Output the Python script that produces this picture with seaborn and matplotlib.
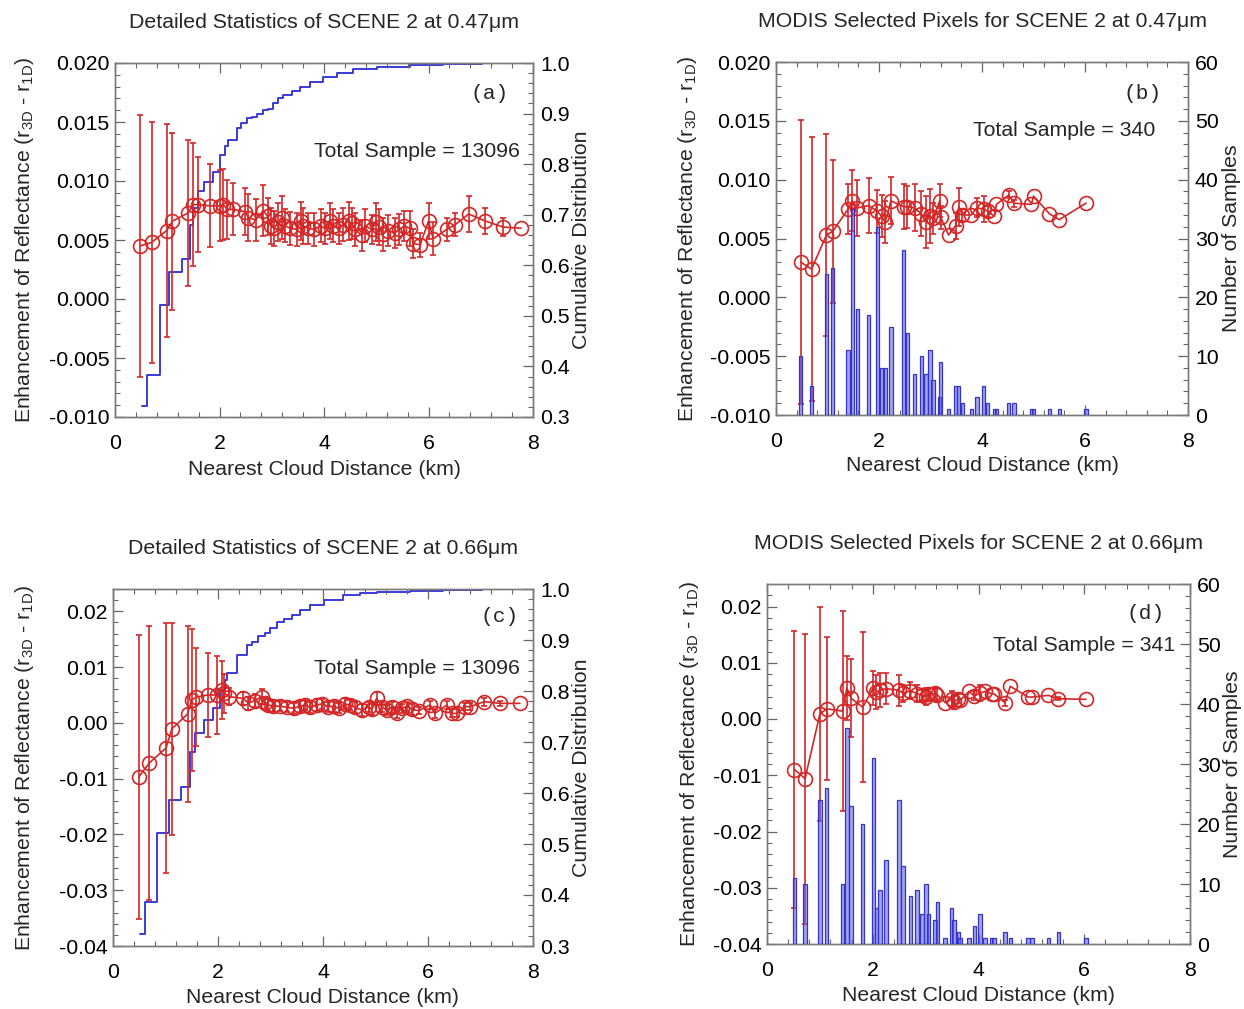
import numpy as np
import pandas as pd
import matplotlib
matplotlib.use("Agg")
import matplotlib.pyplot as plt
import seaborn as sns
from matplotlib.ticker import MultipleLocator, FormatStrFormatter

# ---------------- Panel (a): 0.47 um detailed statistics ----------------
a_dist = [0.48, 0.70, 0.99, 1.10, 1.40, 1.50, 1.58, 1.81, 2.00, 2.07, 2.15, 2.25,
          2.49, 2.55, 2.69, 2.84, 2.92, 2.99, 3.05, 3.12, 3.19, 3.26, 3.35, 3.48,
          3.56, 3.60, 3.69, 3.81, 3.94, 4.01, 4.12, 4.18, 4.28, 4.37, 4.47, 4.53,
          4.60, 4.72, 4.78, 4.91, 5.00, 5.06, 5.12, 5.22, 5.35, 5.44, 5.54, 5.64,
          5.71, 5.84, 6.00, 6.09, 6.35, 6.51, 6.77, 7.09, 7.43, 7.77]
a_enh = [0.0045, 0.0048, 0.0058, 0.0066, 0.0073, 0.0080, 0.0080, 0.0079, 0.0079, 0.0080, 0.0076, 0.0076,
         0.0074, 0.0069, 0.0067, 0.0075, 0.0070, 0.0062, 0.0060, 0.0065, 0.0069, 0.0062, 0.0060, 0.0059,
         0.0066, 0.0062, 0.0060, 0.0059, 0.0062, 0.0060, 0.0066, 0.0062, 0.0060, 0.0063, 0.0066, 0.0064,
         0.0059, 0.0054, 0.0062, 0.0059, 0.0065, 0.0061, 0.0055, 0.0058, 0.0056, 0.0059, 0.0062, 0.0060,
         0.0047, 0.0046, 0.0066, 0.0051, 0.0059, 0.0063, 0.0072, 0.0066, 0.0061, 0.0060]
a_err = [0.0111, 0.0102, 0.0090, 0.0075, 0.0062, 0.0052, 0.0040, 0.0035, 0.0030, 0.0030, 0.0025, 0.0022,
         0.0020, 0.0020, 0.0018, 0.0022, 0.0016, 0.0015, 0.0015, 0.0016, 0.0018, 0.0014, 0.0014, 0.0014,
         0.0016, 0.0015, 0.0013, 0.0014, 0.0014, 0.0013, 0.0015, 0.0014, 0.0013, 0.0014, 0.0016, 0.0013,
         0.0014, 0.0013, 0.0014, 0.0012, 0.0016, 0.0015, 0.0014, 0.0013, 0.0013, 0.0013, 0.0013, 0.0015,
         0.0012, 0.0010, 0.0015, 0.0014, 0.0010, 0.0010, 0.0015, 0.0011, 0.0008, 0.0]
a_cum_x = [0.51, 0.61, 0.86, 1.04, 1.28, 1.44, 1.50, 1.59, 1.70, 1.88, 2.01, 2.11, 2.17, 2.33, 2.42,
           2.52, 2.62, 2.71, 2.84, 2.93, 3.03, 3.12, 3.22, 3.38, 3.54, 3.73, 3.99, 4.24, 4.56, 5.01,
           5.65, 6.28, 6.92, 7.02]
a_cum_v = [0.322, 0.384, 0.521, 0.586, 0.612, 0.680, 0.713, 0.746, 0.765, 0.785, 0.818, 0.835, 0.848,
           0.871, 0.881, 0.891, 0.894, 0.900, 0.907, 0.910, 0.920, 0.930, 0.937, 0.944, 0.953, 0.963,
           0.973, 0.980, 0.989, 0.992, 0.996, 0.998, 0.999, 0.999]

# ---------------- Panel (b): 0.47 um MODIS selected pixels ----------------
b_dist = [0.48, 0.69, 0.98, 1.10, 1.40, 1.48, 1.58, 1.80, 1.97, 2.05, 2.12, 2.23, 2.48, 2.55,
          2.69, 2.82, 2.91, 2.99, 3.05, 3.18, 3.20, 3.35, 3.49, 3.55, 3.62, 3.79, 3.90, 4.03,
          4.11, 4.24, 4.28, 4.52, 4.62, 4.96, 5.00, 5.31, 5.50, 6.02]
b_count = [10, 5, 24, 25, 11, 35, 18, 17, 32, 8, 8, 15, 28, 14,
           7, 10, 7, 11, 6, 3, 9, 1, 5, 5, 2, 1, 3, 5,
           2, 1, 1, 2, 2, 1, 1, 1, 1, 1]
b_enh = [0.0030, 0.0024, 0.0053, 0.0056, 0.0075, 0.0082, 0.0076, 0.0078, 0.0073, 0.0069, 0.0064, 0.0082,
         0.0077, 0.0077, 0.0076, 0.0071, 0.0064, 0.0069, 0.0067, 0.0082, 0.0068, 0.0053, 0.0061, 0.0077,
         0.0070, 0.0070, 0.0076, 0.0075, 0.0073, 0.0069, 0.0079, 0.0087, 0.0080, 0.0079, 0.0086, 0.0071,
         0.0066, 0.0080]
b_err = [0.0121, 0.0112, 0.0086, 0.0061, 0.0021, 0.0026, 0.0024, 0.0023, 0.0018, 0.0018, 0.0018, 0.0020,
         0.0019, 0.0018, 0.0020, 0.0019, 0.0022, 0.0023, 0.0013, 0.0014, 0.0010, 0.0, 0.0011, 0.0016,
         0.0005, 0.0, 0.0008, 0.0011, 0.0005, 0.0, 0.0, 0.0003, 0.0003, 0.0, 0.0, 0.0,
         0.0, 0.0]

# ---------------- Panel (c): 0.66 um detailed statistics ----------------
c_dist = [0.49, 0.69, 1.01, 1.12, 1.42, 1.50, 1.58, 1.80, 1.99, 2.07, 2.12, 2.21,
          2.48, 2.58, 2.70, 2.83, 2.89, 2.96, 3.05, 3.18, 3.31, 3.44, 3.56, 3.66,
          3.75, 3.88, 3.98, 4.10, 4.20, 4.30, 4.42, 4.52, 4.61, 4.74, 4.87, 4.93,
          5.02, 5.12, 5.21, 5.31, 5.41, 5.50, 5.60, 5.69, 5.82, 6.04, 6.13, 6.36,
          6.45, 6.55, 6.71, 6.80, 7.07, 7.37, 7.75]
c_enh = [-0.0097, -0.0072, -0.0045, -0.0011, 0.0016, 0.0041, 0.0046, 0.0050, 0.0050, 0.0059, 0.0053, 0.0047,
         0.0044, 0.0035, 0.0040, 0.0047, 0.0035, 0.0032, 0.0030, 0.0030, 0.0028, 0.0026, 0.0030, 0.0032,
         0.0028, 0.0032, 0.0034, 0.0029, 0.0030, 0.0026, 0.0034, 0.0032, 0.0028, 0.0023, 0.0029, 0.0024,
         0.0044, 0.0029, 0.0023, 0.0028, 0.0017, 0.0026, 0.0030, 0.0024, 0.0022, 0.0032, 0.0017, 0.0032,
         0.0017, 0.0017, 0.0029, 0.0029, 0.0038, 0.0035, 0.0035]
c_err = [0.0255, 0.0245, 0.0224, 0.0190, 0.0158, 0.0128, 0.0088, 0.0075, 0.0070, 0.0052, 0.0035, 0.0015,
         0.0012, 0.0012, 0.0012, 0.0013, 0.0010, 0.0010, 0.0010, 0.0009, 0.0009, 0.0010, 0.0010, 0.0009,
         0.0010, 0.0010, 0.0009, 0.0009, 0.0010, 0.0009, 0.0010, 0.0009, 0.0010, 0.0010, 0.0009, 0.0009,
         0.0012, 0.0009, 0.0009, 0.0010, 0.0009, 0.0008, 0.0008, 0.0009, 0.0006, 0.0008, 0.0008, 0.0007,
         0.0007, 0.0007, 0.0006, 0.0006, 0.0007, 0.0005, 0.0]
c_cum_x = [0.51, 0.61, 0.83, 1.07, 1.30, 1.47, 1.56, 1.73, 1.91, 2.04, 2.13, 2.18, 2.36, 2.55, 2.64,
           2.77, 2.89, 2.99, 3.12, 3.25, 3.40, 3.56, 3.75, 4.01, 4.39, 4.70, 5.02, 5.66, 6.29, 6.93, 7.02]
c_cum_v = [0.323, 0.387, 0.521, 0.586, 0.612, 0.681, 0.717, 0.743, 0.766, 0.802, 0.822, 0.835, 0.871,
           0.890, 0.897, 0.907, 0.913, 0.923, 0.936, 0.942, 0.949, 0.959, 0.969, 0.978, 0.988, 0.992,
           0.994, 0.997, 0.998, 0.999, 0.999]

# ---------------- Panel (d): 0.66 um MODIS selected pixels ----------------
d_dist = [0.52, 0.72, 1.00, 1.13, 1.43, 1.51, 1.59, 1.81, 2.01, 2.07, 2.14, 2.25, 2.50, 2.57,
          2.71, 2.84, 2.93, 3.01, 3.05, 3.18, 3.22, 3.37, 3.49, 3.54, 3.62, 3.65, 3.82, 3.92,
          4.03, 4.12, 4.25, 4.29, 4.50, 4.60, 4.94, 5.01, 5.32, 5.51, 6.03]
d_count = [11, 10, 24, 26, 10, 36, 23, 20, 31, 6, 9, 14, 24, 13,
           8, 9, 5, 10, 5, 4, 7, 1, 6, 4, 2, 1, 1, 3,
           5, 1, 1, 1, 2, 1, 1, 1, 1, 2, 1]
d_enh = [-0.0090, -0.0106, 0.0009, 0.0018, 0.0014, 0.0055, 0.0037, 0.0021, 0.0055, 0.0048, 0.0051, 0.0054,
         0.0051, 0.0046, 0.0050, 0.0045, 0.0042, 0.0040, 0.0044, 0.0046, 0.0043, 0.0029, 0.0035, 0.0031,
         0.0036, 0.0033, 0.0049, 0.0041, 0.0046, 0.0049, 0.0045, 0.0045, 0.0029, 0.0058, 0.0039, 0.0039,
         0.0042, 0.0036, 0.0035]
d_err = [0.0246, 0.0258, 0.0191, 0.0127, 0.0178, 0.0057, 0.0069, 0.0133, 0.0030, 0.0030, 0.0030, 0.0028,
         0.0028, 0.0015, 0.0015, 0.0015, 0.0010, 0.0015, 0.0010, 0.0010, 0.0012, 0.0, 0.0014, 0.0012,
         0.0008, 0.0, 0.0, 0.0008, 0.0014, 0.0, 0.0, 0.0, 0.0005, 0.0, 0.0, 0.0,
         0.0, 0.0003, 0.0]

titles = ["Detailed Statistics of SCENE 2 at 0.47\u03bcm",
          "MODIS Selected Pixels for SCENE 2 at 0.47\u03bcm",
          "Detailed Statistics of SCENE 2 at 0.66\u03bcm",
          "MODIS Selected Pixels for SCENE 2 at 0.66\u03bcm"]
panel_tags = ["(a)", "(b)", "(c)", "(d)"]
totals = ["Total Sample = 13096", "Total Sample = 340", "Total Sample = 13096", "Total Sample = 341"]

# ---------------- Styling ----------------
sns.set_theme(style="ticks")
plt.rcParams['font.family'] = ['Liberation Sans', 'DejaVu Sans']
plt.rcParams['mathtext.fontset'] = 'custom'
plt.rcParams['mathtext.rm'] = 'Liberation Sans'
plt.rcParams['mathtext.it'] = 'Liberation Sans:italic'
plt.rcParams['axes.edgecolor'] = '#7a7a7a'
plt.rcParams['axes.linewidth'] = 1.0

RED = '#d42626'
BLUE = '#3a3ad8'
BAR_FACE = (0.40, 0.40, 0.90, 0.60)
BAR_EDGE = '#3434c8'
FS = 15.3

fig = plt.figure(figsize=(12.44, 10.09), dpi=100)
W, H = 1244, 1009
boxes = [(115, 63, 533, 417), (776, 62, 1188, 415), (113, 589, 533, 946), (767, 584, 1190, 944)]
axes = []
for (l, t, r, b) in boxes:
    axes.append(fig.add_axes([l / W, 1 - b / H, (r - l) / W, (b - t) / H]))

ylabel_left = 'Enhancement of Reflectance (r$_{\\mathrm{3D}}$ - r$_{\\mathrm{1D}}$)'
left_label_x = [-0.189, -0.187, -0.183, -0.157]
right_label_x = [1.093, 1.083, 1.093, 1.078]
xlabel_y = [-0.121, -0.116, -0.118, -0.117]


def tick_style(ax):
    ax.tick_params(axis='both', which='major', direction='in', length=7, width=0.9,
                   color='#666666', labelsize=FS, labelcolor='black')
    ax.tick_params(axis='both', which='minor', direction='in', length=3.5, width=0.8,
                   color='#666666')


def red_series(ax, x, y, err):
    df = pd.DataFrame({"dist": x, "enh": y, "err": err})
    m = df["err"] > 0
    ax.errorbar(df.loc[m, "dist"], df.loc[m, "enh"], yerr=df.loc[m, "err"], fmt='none',
                ecolor=RED, elinewidth=1.2, capsize=2.5, capthick=1.2, zorder=3)
    sns.lineplot(data=df, x="dist", y="enh", ax=ax, color=RED, lw=1.2, marker='o',
                 markersize=10, mfc='none', mec=RED, mew=1.2, estimator=None, sort=False,
                 legend=False, zorder=4)


for i, ax in enumerate(axes):
    ax2 = ax.twinx()
    if i in (0, 2):
        x, y, e = (a_dist, a_enh, a_err) if i == 0 else (c_dist, c_enh, c_err)
        cx, cv = (a_cum_x, a_cum_v) if i == 0 else (c_cum_x, c_cum_v)
        cdf = pd.DataFrame({"dist": cx, "cum": cv})
        sns.lineplot(data=cdf, x="dist", y="cum", ax=ax2, color=BLUE, lw=1.4,
                     drawstyle='steps-post', estimator=None, sort=False, legend=False)
        ax2.set_ylim(0.3, 1.0)
        ax2.yaxis.set_major_locator(MultipleLocator(0.1))
        ax2.yaxis.set_minor_locator(MultipleLocator(0.02))
        ax2.yaxis.set_major_formatter(FormatStrFormatter('%.1f'))
        ax2.set_ylabel('Cumulative Distribution', fontsize=FS)
    else:
        x, y, e = (b_dist, b_enh, b_err) if i == 1 else (d_dist, d_enh, d_err)
        bx, bc = (b_dist, b_count) if i == 1 else (d_dist, d_count)
        ax2.bar(bx, bc, width=0.065, color=BAR_FACE, edgecolor=BAR_EDGE, linewidth=0.9, zorder=5)
        ax2.set_ylim(0, 60)
        ax2.yaxis.set_major_locator(MultipleLocator(10))
        ax2.yaxis.set_minor_locator(MultipleLocator(2))
        ax2.yaxis.set_major_formatter(FormatStrFormatter('%d'))
        ax2.set_ylabel('Number of Samples', fontsize=FS)
    ax2.yaxis.set_label_coords(right_label_x[i], 0.5)

    red_series(ax, x, y, e)

    if i in (0, 1):
        ax.set_ylim(-0.010, 0.020)
        ax.yaxis.set_major_locator(MultipleLocator(0.005))
        ax.yaxis.set_minor_locator(MultipleLocator(0.001))
        ax.yaxis.set_major_formatter(FormatStrFormatter('%.3f'))
    else:
        ax.set_ylim(-0.040, 0.024)
        ax.yaxis.set_major_locator(MultipleLocator(0.01))
        ax.yaxis.set_minor_locator(MultipleLocator(0.002))
        ax.yaxis.set_major_formatter(FormatStrFormatter('%.2f'))

    ax.set_xlim(0, 8)
    ax.xaxis.set_major_locator(MultipleLocator(2))
    ax.xaxis.set_minor_locator(MultipleLocator(0.4))
    ax.xaxis.set_major_formatter(FormatStrFormatter('%d'))
    ax.set_xlabel('Nearest Cloud Distance (km)', fontsize=FS)
    ax.xaxis.set_label_coords(0.5, xlabel_y[i])
    ax.set_ylabel(ylabel_left, fontsize=FS)
    ax.yaxis.set_label_coords(left_label_x[i], 0.5)
    ax.set_title(titles[i], fontsize=FS, pad=25)

    tick_style(ax)
    ax.tick_params(axis='x', which='both', top=True, bottom=True)
    ax.tick_params(axis='x', which='major', pad=12)
    ax.tick_params(axis='y', which='both', left=True, right=False)
    ax.tick_params(axis='y', which='major', pad=4)
    tick_style(ax2)
    ax2.tick_params(axis='y', which='both', right=True, left=False)
    ax2.tick_params(axis='y', which='major', pad=5)
    for sp in ax2.spines.values():
        sp.set_color('#7a7a7a')

    if i in (0, 2):
        ax.set_zorder(ax2.get_zorder() + 1)
        ax.patch.set_visible(False)

    tag_pos = [(0.897, 0.915), (0.891, 0.912), (0.921, 0.924), (0.894, 0.919)][i]
    tot_pos = [(0.969, 0.749), (0.920, 0.805), (0.969, 0.776), (0.965, 0.830)][i]
    ax.text(*tag_pos, panel_tags[i], transform=ax.transAxes, ha='center', va='center',
            fontsize=FS, family=['Liberation Mono', 'DejaVu Sans Mono'], zorder=10)
    ax.text(*tot_pos, totals[i], transform=ax.transAxes, ha='right', va='center',
            fontsize=FS, zorder=10)

fig.savefig('out.png', dpi=100)
